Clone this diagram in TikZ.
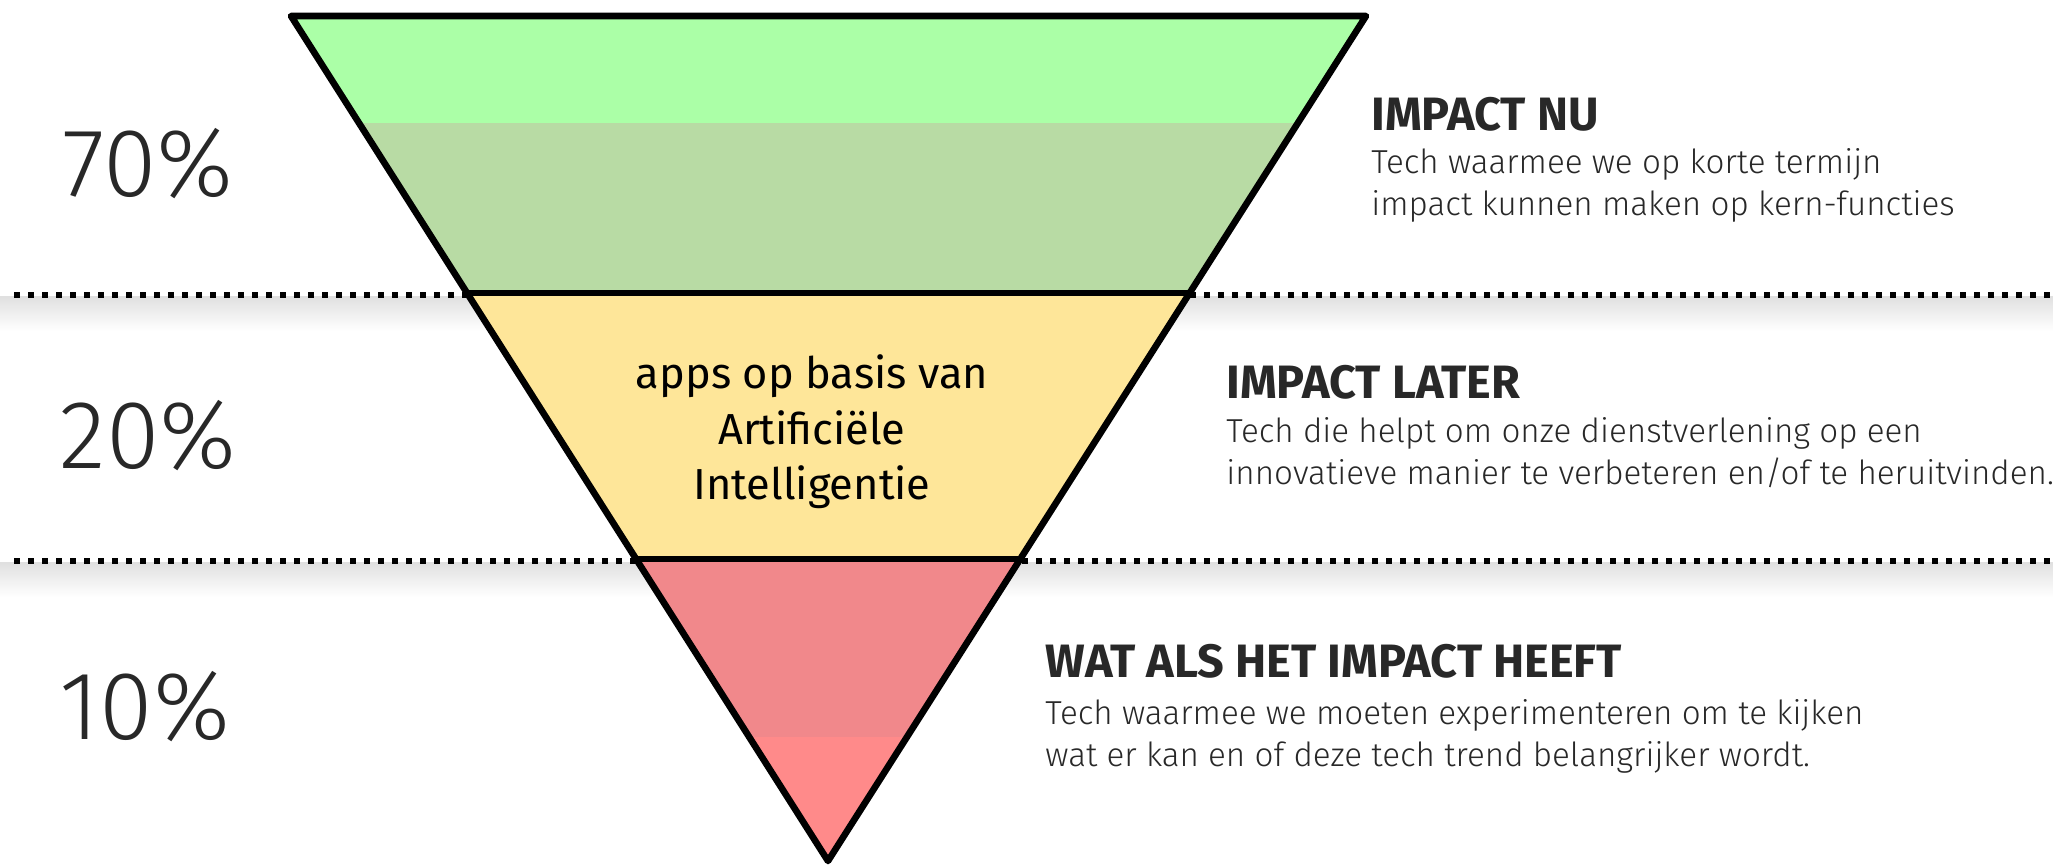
\documentclass[tikz,border=0pt]{standalone}
\usepackage{fontspec}
\setmainfont{Fira Sans}
\newfontfamily\thinfont{Fira Sans Light}
\usetikzlibrary{calc}
\definecolor{groenlicht}{RGB}{171,255,167}
\definecolor{groendonker}{RGB}{184,219,164}
\definecolor{geel}{RGB}{254,230,153}
\definecolor{roodtop}{RGB}{241,136,139}
\definecolor{roodlicht}{RGB}{255,138,138}
\definecolor{tekst}{RGB}{40,40,40}
\tikzset{
  stippel/.style={line width=3.2pt, line cap=butt, dash pattern=on 3pt off 4pt},
  rand/.style={line width=3.3pt},
  procent/.style={font=\thinfont\fontsize{48.5}{48.5}\selectfont, text=tekst, inner sep=0pt},
  kop/.style={font=\bfseries\fontsize{23.4}{24}\selectfont, text=tekst, anchor=west, inner sep=0pt},
  uitleg/.style={font=\thinfont\fontsize{16.6}{21}\selectfont, text=tekst, anchor=west, align=left, inner sep=0pt}
}
\begin{document}
\begin{tikzpicture}[x=0.5pt, y=-0.5pt, line join=round, line cap=round]
	\useasboundingbox (0,0) rectangle (2053,865);
	% schaduw en stippellijnen
	\foreach \y in {295,561}{
		\shade[top color=black!12, bottom color=white] (0,\y+2) rectangle (2053,\y+36);
		\draw[stippel] (14,\y) -- (2053,\y);
	}
	\coordinate (tl) at (291,16);
	\coordinate (tr) at (1366,16);
	\coordinate (apex) at (828,861);
	\begin{scope}
		\clip (tl) -- (tr) -- (apex) -- cycle;
		\fill[groenlicht] (0,0) rectangle (2053,123);
		\fill[groendonker] (0,123) rectangle (2053,293);
		\fill[geel] (0,293) rectangle (2053,559);
		\fill[roodtop] (0,559) rectangle (2053,737);
		\fill[roodlicht] (0,737) rectangle (2053,865);
	\end{scope}
	\draw[rand] (tl) -- (tr) -- (apex) -- cycle;
	\draw[rand] ($(tl)!0.3278!(apex)$) -- ($(tr)!0.3278!(apex)$);
	\draw[rand] ($(tl)!0.6426!(apex)$) -- ($(tr)!0.6426!(apex)$);
	% percentages
	\node[procent] (p70) at (148,164) {70\%};
	\node[procent] (p20) at (148,436) {20\%};
	\node[procent] (p10) at (145,707) {10\%};
	% midden
	\node[align=center, font=\fontsize{21.7}{27.8}\selectfont, inner sep=0pt] (ai) at (812,432) {apps op basis van\\Artificiële\\Intelligentie};
	% toelichting rechts
	\node[kop] (hnu) at (1371,114) {IMPACT NU};
	\node[uitleg] (tnu) at (1371,185) {Tech waarmee we op korte termijn\\impact kunnen maken op kern-functies};
	\node[kop] (hlater) at (1226,382) {IMPACT LATER};
	\node[uitleg] (tlater) at (1226,453) {Tech die helpt om onze dienstverlening op een\\innovatieve manier te verbeteren en/of te heruitvinden.};
	\node[kop] (hwat) at (1045,661) {WAT ALS HET IMPACT HEEFT};
	\node[uitleg] (twat) at (1045,736) {Tech waarmee we moeten experimenteren om te kijken\\wat er kan en of deze tech trend belangrijker wordt.};
\end{tikzpicture}
\end{document}
